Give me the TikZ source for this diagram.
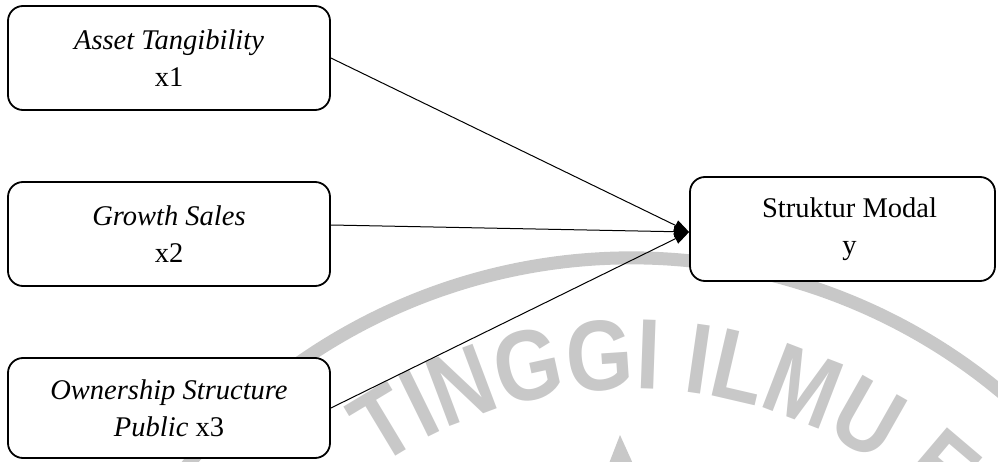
\documentclass[tikz,border=0pt]{standalone}
\usepackage{fontspec}
\setmainfont{Liberation Serif}
\newfontfamily\wmfont[FakeStretch=0.86]{Liberation Sans}
\usetikzlibrary{arrows.meta,decorations.text}
\definecolor{wmgray}{RGB}{200,200,200}
\tikzset{
  varbox/.style={draw=black, line width=1.8pt, fill=white, rounded corners=15pt,
    rectangle, inner sep=0pt, minimum width=322pt, minimum height=104pt,
    align=center, font=\fontsize{28.5}{37.4}\selectfont},
  link/.style={draw=black, line width=1pt, -{Triangle[length=15pt,width=11pt]}}
}
\begin{document}
\begin{tikzpicture}[x=1pt,y=1pt]
\useasboundingbox (0,0) rectangle (998,461);
% faint watermark
\draw[wmgray, line width=13pt] (631,-375) ++(155:578) arc[start angle=155, end angle=15, radius=578];
\path[decorate, decoration={text along path, text align=left,
  text={|\wmfont\bfseries\fontsize{100}{100}\selectfont\color{wmgray}|TINGGI ILMU E}}]
  (631,-375) ++(124.4:447) arc[start angle=124.4, end angle=20, radius=447];
\fill[wmgray] (620,26) -- (634,-5) -- (608,-5) -- cycle;
% boxes
\node[varbox] (b1) at (169,403) {\textit{Asset Tangibility}\\x1};
\node[varbox] (b2) at (169,227) {\textit{Growth Sales}\\x2};
\node[varbox, minimum height=100pt] (b3) at (169,53) {\textit{Ownership Structure}\\\textit{Public} x3};
\node[varbox, minimum width=305pt] (b4) at (842.5,232) {\hspace*{14pt}Struktur Modal\\\hspace*{14pt}y};
\coordinate (tip) at ([yshift=-3pt]b4.west);
\coordinate (s2) at ([yshift=9pt]b2.east);
% connectors
\draw[link] (b1.east) -- (tip);
\draw[link] (s2) -- (tip);
\draw[link] (b3.east) -- (tip);
\end{tikzpicture}
\end{document}
